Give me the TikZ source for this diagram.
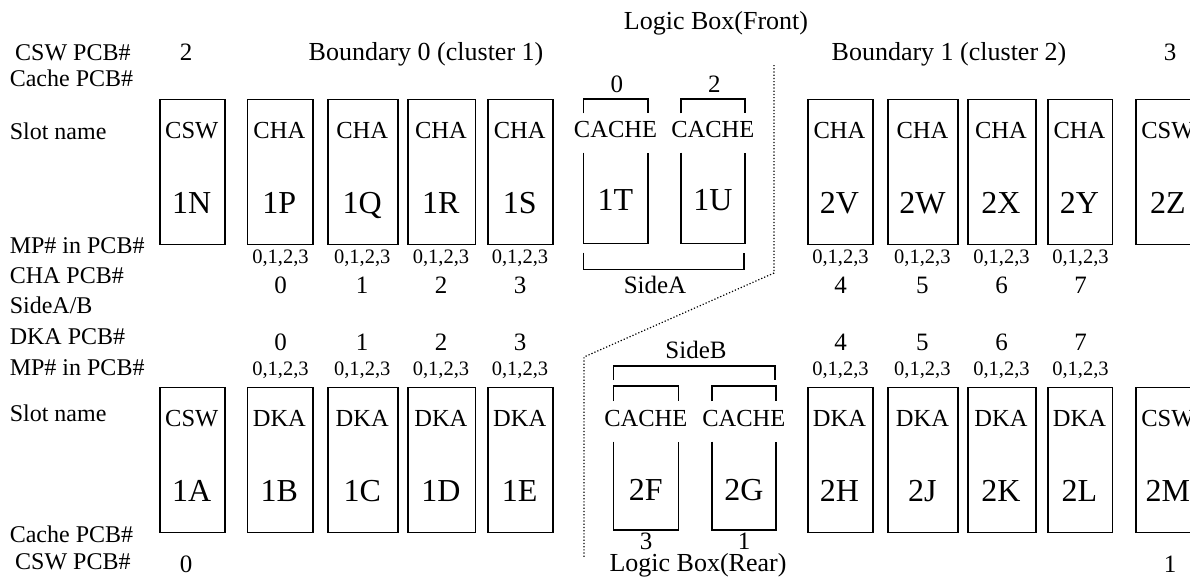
\documentclass[tikz,border=0pt]{standalone}
\usepackage{fontspec}
\setmainfont{Liberation Serif}
\begin{document}
\begin{tikzpicture}[x=1pt,y=-1pt,
  lbl/.style={inner sep=0pt, anchor=base west, font=\fontsize{24}{28}\selectfont},
  num/.style={inner sep=0pt, anchor=base, font=\fontsize{25}{30}\selectfont},
  title/.style={inner sep=0pt, anchor=base, font=\fontsize{26}{30}\selectfont},
  typ/.style={inner sep=0pt, anchor=base, font=\fontsize{24.5}{30}\selectfont},
  big/.style={inner sep=0pt, anchor=base, font=\fontsize{32}{36}\selectfont},
  small/.style={inner sep=0pt, anchor=base, font=\fontsize{20.5}{24}\selectfont},
  slotbox/.style={draw, line width=1.6pt, inner sep=0pt, anchor=north west},
  edge/.style={line width=1.6pt},
  sep/.style={dotted, line width=1.2pt}]
\path[use as bounding box, clip] (0,0) rectangle (1190,587);

% row labels
\node[lbl] (lCSWt) at (15,60) {CSW PCB\#};
\node[lbl] (lCachet) at (9.6,86) {Cache PCB\#};
\node[lbl] (lSlott) at (9.6,139) {Slot name};
\node[lbl] (lMPt) at (9.6,253) {MP\# in PCB\#};
\node[lbl] (lCHA) at (9.6,283) {CHA PCB\#};
\node[lbl] (lSide) at (9.6,313) {SideA/B};
\node[lbl] (lDKA) at (9.6,344) {DKA PCB\#};
\node[lbl] (lMPb) at (9.6,375) {MP\# in PCB\#};
\node[lbl] (lSlotb) at (9.6,421) {Slot name};
\node[lbl] (lCacheb) at (9.6,542) {Cache PCB\#};
\node[lbl] (lCSWb) at (15,569) {CSW PCB\#};

% CSW numbers and titles
\node[num] (cswTwo) at (186,60) {2};
\node[num] (cswThree) at (1170,60) {3};
\node[num] (cswZero) at (186,572) {0};
\node[num] (cswOne) at (1170,572) {1};
\node[title] (bound0) at (426,60) {Boundary 0 (cluster 1)};
\node[title] (bound1) at (949,60) {Boundary 1 (cluster 2)};
\node[title] (front) at (716,29) {Logic Box(Front)};
\node[title] (rear) at (698,571.5) {Logic Box(Rear)};

% top row slots
\foreach \n/\a/\b/\t in {1N/159.2/224.3/CSW,1P/246.8/311.9/CHA,1Q/327.2/397.2/CHA,1R/407.2/474.6/CHA,1S/487.2/552.2/CHA,2V/807/872/CHA,2W/887.4/957.4/CHA,2X/967/1035/CHA,2Y/1047.3/1111.6/CHA,2Z/1135.3/1200.4/CSW}{
  \pgfmathsetmacro\w{\b-\a}
  \pgfmathsetmacro\c{(\a+\b)/2}
  \node[slotbox, minimum width=\w pt, minimum height=145pt] (box\n) at (\a,98.5) {};
  \node[typ] (typ\n) at (\c,138) {\t};
  \node[big] (lab\n) at (\c,213) {\n};
}
% bottom row slots
\foreach \n/\a/\b/\t in {1A/159.2/224.3/CSW,1B/246.8/311.9/DKA,1C/327.2/397.2/DKA,1D/407.2/474.6/DKA,1E/487.2/552.2/DKA,2H/807/872/DKA,2J/887.4/957.4/DKA,2K/967/1035/DKA,2L/1047.3/1111.6/DKA,2M/1135.3/1200.4/CSW}{
  \pgfmathsetmacro\w{\b-\a}
  \pgfmathsetmacro\c{(\a+\b)/2}
  \node[slotbox, minimum width=\w pt, minimum height=145pt] (box\n) at (\a,386.7) {};
  \node[typ] (typ\n) at (\c,426) {\t};
  \node[big] (lab\n) at (\c,501.5) {\n};
}
% CHA numbering
\foreach \n/\c/\p in {1P/280.5/0,1Q/362.2/1,1R/441/2,1S/520/3,2V/840.5/4,2W/922.4/5,2X/1001.5/6,2Y/1080.5/7}{
  \node[small] (mp\n) at (\c,263) {0,1,2,3};
  \node[num] (pcb\n) at (\c,293) {\p};
}
% DKA numbering
\foreach \n/\c/\p in {1B/280.5/0,1C/362.2/1,1D/441/2,1E/520/3,2H/840.5/4,2J/922.4/5,2K/1001.5/6,2L/1080.5/7}{
  \node[small] (mp\n) at (\c,375) {0,1,2,3};
  \node[num] (pcb\n) at (\c,350) {\p};
}

% cache slots, front
\draw[edge] (583.3,113.3) -- (583.3,99) -- (647.7,99) -- (647.7,113.3);
\draw[edge] (583.3,152.7) -- (583.3,243.3) -- (647.7,243.3) -- (647.7,152.7);
\draw[edge] (680.7,113.3) -- (680.7,99) -- (745,99) -- (745,113.3);
\draw[edge] (680.7,152.7) -- (680.7,243.3) -- (745,243.3) -- (745,152.7);
\draw[edge] (583.3,252.7) -- (583.3,269.3) -- (744,269.3) -- (744,252.7);
\node[typ] (typ1T) at (615.5,137.5) {CACHE};
\node[typ] (typ1U) at (712.85,137.5) {CACHE};
\node[big] (lab1T) at (615.5,210) {1T};
\node[big] (lab1U) at (712.85,210) {1U};
\node[num] (cache0) at (616.8,92) {0};
\node[num] (cache2) at (714.4,92) {2};
\node[num] (sideA) at (655,293) {SideA};

% cache slots, rear
\draw[edge] (613.3,401) -- (613.3,386) -- (678.3,386) -- (678.3,401);
\draw[edge] (613.3,441.7) -- (613.3,530) -- (678.3,530) -- (678.3,441.7);
\draw[edge] (711.7,401) -- (711.7,386) -- (776,386) -- (776,401);
\draw[edge] (711.7,441.7) -- (711.7,530) -- (776,530) -- (776,441.7);
\draw[edge] (613.3,380) -- (613.3,366) -- (775,366) -- (775,380);
\node[typ] (typ2F) at (645.8,426) {CACHE};
\node[typ] (typ2G) at (743.85,426) {CACHE};
\node[big] (lab2F) at (645.8,500) {2F};
\node[big] (lab2G) at (743.85,500) {2G};
\node[num] (cache3) at (646,549.5) {3};
\node[num] (cache1) at (744,549.5) {1};
\node[num] (sideB) at (696,358) {SideB};

% front/rear divider
\coordinate (d1) at (774,65);
\coordinate (d2) at (774,273);
\coordinate (d3) at (584,357);
\coordinate (d4) at (584,557);
\draw[sep] (d1) -- (d2) -- (d3) -- (d4);
\end{tikzpicture}
\end{document}
